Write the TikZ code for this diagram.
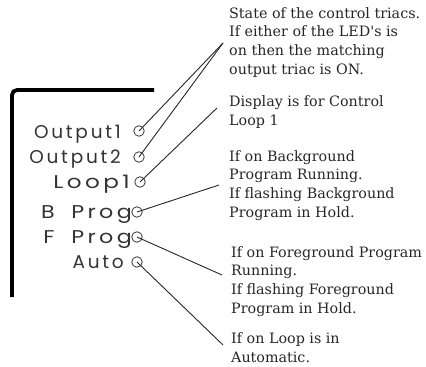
\documentclass[tikz,border=0pt]{standalone}
\usepackage{fontspec}
\newfontfamily\lblfont[LetterSpace=15]{Poppins}
\newfontfamily\notefont{DejaVu Serif}
\begin{document}
\begin{tikzpicture}[x=1pt,y=-1pt,
  lbl/.style={anchor=base east,inner sep=0pt,text=black!80,font=\lblfont\fontsize{18.5}{20}\selectfont},
  led/.style={circle,draw=black!70,line width=0.9pt,minimum size=10.5pt,inner sep=0pt},
  note/.style={anchor=base west,inner sep=0pt,align=left,text=black!85,font=\notefont\fontsize{14.3}{18.6}\selectfont},
  conn/.style={draw=black!85,line width=0.9pt},
  frame/.style={draw=black,line width=3.8pt,rounded corners=5pt}]
\useasboundingbox (0,0) rectangle (426,367);
% panel frame
\coordinate (fa) at (154,90);
\coordinate (fb) at (12,90);
\coordinate (fc) at (12,297);
\draw[frame] (fa) -- (fb) -- (fc);
% LEDs
\node[led] (c1) at (139,131) {};
\node[led] (c2) at (139,157) {};
\node[led] (c3) at (140,182) {};
\node[led] (c4) at (137,212) {};
\node[led] (c5) at (137,237) {};
\node[led] (c6) at (137,262) {};
% labels
\node[lbl] (l1) at (121,138) {Output1};
\node[lbl] (l2) at (121,163) {Output2};
\node[lbl] (l3) at (130,188) {\scalebox{1.25}[1]{Loop1}};
\node[lbl] (l4) at (132,218) {\scalebox{1.2}[1]{B\hspace{14pt}Prog}};
\node[lbl] (l5) at (132,243) {\scalebox{1.2}[1]{F\hspace{14pt}Prog}};
\node[lbl] (l6) at (124,268) {Auto};
% notes (base anchor = baseline of the last line)
\node[note] (n1) at (229,74) {State of the control triacs.\\If either of the LED's is\\on then the matching\\output triac is ON.};
\node[note] (n2) at (229,125) {Display is for Control\\Loop 1};
\node[note] (n3) at (229,217) {If on Background\\Program Running.\\If flashing Background\\Program in Hold.};
\node[note] (n4) at (231,313) {If on Foreground Program\\Running.\\If flashing Foreground\\Program in Hold.};
\node[note] (n5) at (231,362) {If on Loop is in\\Automatic.};
% connector ends
\coordinate (e1) at (223,43);
\coordinate (e3) at (217,108);
\coordinate (e4) at (219,185);
\coordinate (e5) at (222,275);
\coordinate (e6) at (223,345);
\draw[conn] (c1.center) -- (e1);
\draw[conn] (c2.center) -- (e1);
\draw[conn] (c3.center) -- (e3);
\draw[conn] (c4.center) -- (e4);
\draw[conn] (c5.center) -- (e5);
\draw[conn] (c6.center) -- (e6);
\end{tikzpicture}
\end{document}
